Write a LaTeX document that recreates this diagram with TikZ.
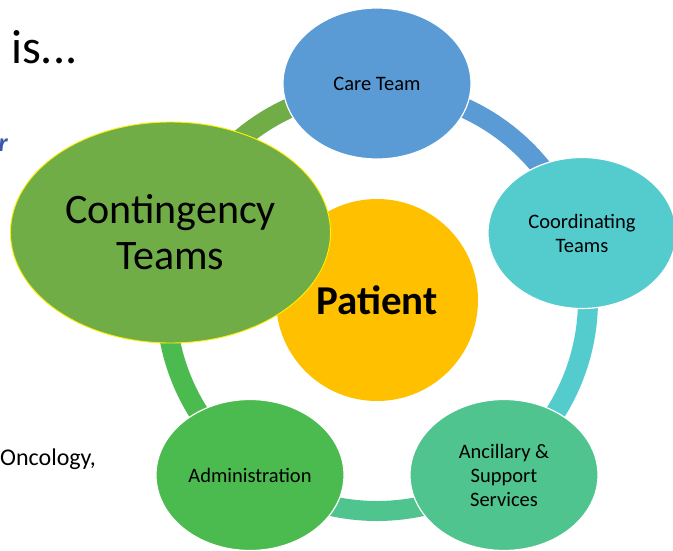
\documentclass[tikz,border=0pt]{standalone}
\usepackage{fontspec}
\setmainfont{Carlito}
\usetikzlibrary{shapes.geometric}
\definecolor{careblue}{RGB}{91,155,213}
\definecolor{coordteal}{RGB}{84,203,205}
\definecolor{ancgreen}{RGB}{80,196,142}
\definecolor{admgreen}{RGB}{75,187,80}
\definecolor{contgreen}{RGB}{112,173,71}
\definecolor{patyellow}{RGB}{255,192,0}
\definecolor{textblue}{RGB}{59,89,170}
\tikzset{
  ringnode/.style={ellipse, draw=white, line width=1.2pt, minimum width=188pt, minimum height=151pt, inner sep=0pt, align=center, font=\fontsize{20.5}{24}\selectfont},
  ringarc/.style={line width=20pt},
}
\begin{document}
\begin{tikzpicture}[x=1pt,y=-1pt]
\useasboundingbox[fill=white] (0,0) rectangle (673,550);
\coordinate (c) at (377,300);
% ring segments
\draw[ringarc, careblue] (c) ++(-90:211) arc[start angle=-90, end angle=-18, radius=211];
\draw[ringarc, coordteal] (c) ++(-18:211) arc[start angle=-18, end angle=54, radius=211];
\draw[ringarc, ancgreen] (c) ++(54:211) arc[start angle=54, end angle=126, radius=211];
\draw[ringarc, admgreen] (c) ++(126:211) arc[start angle=126, end angle=198, radius=211];
\draw[ringarc, contgreen] (c) ++(198:211) arc[start angle=198, end angle=270, radius=211];
% patient
\node[circle, fill=patyellow, minimum size=202pt, inner sep=0pt, font=\fontsize{41}{46}\selectfont\bfseries] (patient) at (377,300) {Patient};
% ring nodes
\node[ringnode, fill=careblue] (care) at (377,83.5) {Care Team};
\node[ringnode, fill=coordteal] (coord) at (582,233) {Coordinating\\Teams};
\node[ringnode, fill=ancgreen] (anc) at (504,475) {Ancillary \&\\Support\\Services};
\node[ringnode, fill=admgreen] (adm) at (250,475) {Administration};
\node[ellipse, fill=contgreen, draw=yellow, line width=0.9pt, minimum width=320pt, minimum height=221pt, inner sep=0pt, align=center, font=\fontsize{42}{46}\selectfont] (cont) at (170.5,232.5) {Contingency\\Teams};
% side texts
\node[anchor=base west, inner sep=0pt, font=\fontsize{48}{50}\selectfont] (is) at (11,63) {is...};
\node[anchor=base east, inner sep=0pt, text=textblue, font=\fontsize{26}{28}\selectfont\bfseries\itshape] (r) at (8,151) {r};
\node[anchor=base west, inner sep=0pt, font=\fontsize{24}{26}\selectfont] (onc) at (0,465) {Oncology,};
\end{tikzpicture}
\end{document}
